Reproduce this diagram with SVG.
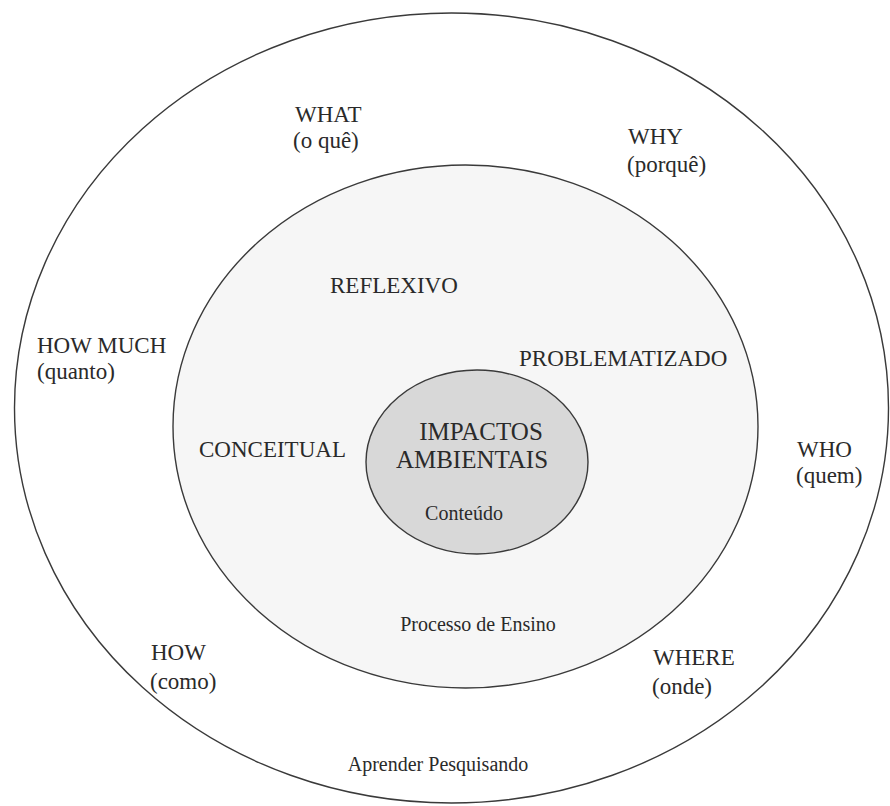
<svg xmlns="http://www.w3.org/2000/svg" width="890" height="806" viewBox="0 0 890 806">
<style>
.ring{stroke:#3a3a3a;stroke-width:1.4}
text{font-family:"Liberation Serif","Times New Roman",serif;fill:#2a2a2a}
.lbl{font-size:23px}
.big{font-size:25px}
.sm{font-size:20px}
</style>
<rect width="890" height="806" fill="#ffffff"/>
<g id="outer">
<ellipse class="ring" cx="451.5" cy="408" rx="437" ry="395" fill="#ffffff"/>
<text class="lbl" x="295" y="122">WHAT</text>
<text class="lbl" x="293" y="148">(o quê)</text>
<text class="lbl" x="628" y="144">WHY</text>
<text class="lbl" x="627" y="172">(porquê)</text>
<text class="lbl" x="37" y="353">HOW MUCH</text>
<text class="lbl" x="37" y="379">(quanto)</text>
<text class="lbl" x="797" y="457">WHO</text>
<text class="lbl" x="796" y="483">(quem)</text>
<text class="lbl" x="151" y="660">HOW</text>
<text class="lbl" x="150" y="689">(como)</text>
<text class="lbl" x="653" y="665">WHERE</text>
<text class="lbl" x="652" y="694">(onde)</text>
<text class="sm" x="438" y="771" text-anchor="middle">Aprender Pesquisando</text>
</g>
<g id="middle">
<ellipse class="ring" cx="465.5" cy="426.5" rx="292.5" ry="261.5" fill="#f6f6f6"/>
<text class="lbl" x="330" y="293">REFLEXIVO</text>
<text class="lbl" x="519" y="366">PROBLEMATIZADO</text>
<text class="lbl" x="199" y="457">CONCEITUAL</text>
<text class="sm" x="478" y="631" text-anchor="middle">Processo de Ensino</text>
</g>
<g id="inner">
<ellipse class="ring" cx="477" cy="462" rx="111" ry="92" fill="#d8d8d8"/>
<text class="big" x="481" y="440" text-anchor="middle">IMPACTOS</text>
<text class="big" x="472" y="468" text-anchor="middle">AMBIENTAIS</text>
<text class="sm" x="464" y="520" text-anchor="middle">Conteúdo</text>
</g>
<g id="connectors"/>
</svg>
